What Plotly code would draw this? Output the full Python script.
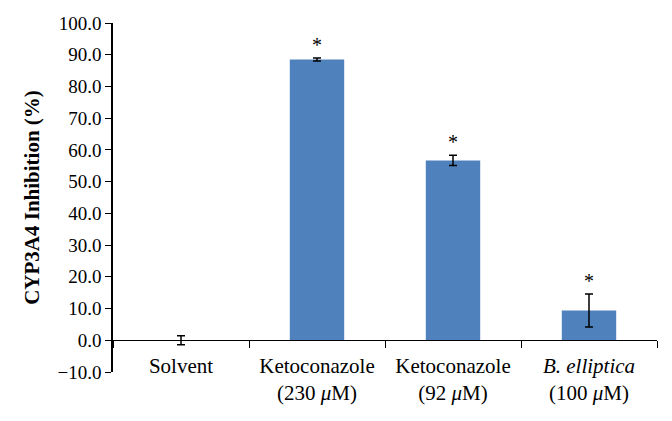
import plotly.graph_objects as go

categories = ["Solvent", "Ketoconazole<br>(230 <i>μ</i>M)", "Ketoconazole<br>(92 <i>μ</i>M)",
              "<i>B. elliptica</i><br>(100 <i>μ</i>M)"]
inhibition = [0.0, 88.5, 56.7, 9.4]
errors = [1.4, 0.5, 1.6, 5.2]
significant = [False, True, True, True]
y_ticks = [-10, 0, 10, 20, 30, 40, 50, 60, 70, 80, 90, 100]

font_family = "Liberation Serif"

fig = go.Figure()
fig.add_trace(go.Bar(
    x=categories, y=inhibition, width=0.4,
    marker=dict(color="#4F81BD", line=dict(width=0)),
    error_y=dict(type="data", array=errors, visible=True, color="black",
                 thickness=1.5, width=4),
))

for c, v, e, s in zip(categories, inhibition, errors, significant):
    if s:
        fig.add_annotation(x=c, y=v + e, text="*", showarrow=False,
                           yanchor="bottom", font=dict(family=font_family, size=20, color="black"))

fig.update_layout(
    width=672, height=421,
    margin=dict(l=105, r=23, t=15, b=57),
    plot_bgcolor="white", paper_bgcolor="white",
    showlegend=False,
    font=dict(family=font_family, size=18, color="black"),
    bargap=0.6,
)
fig.update_xaxes(
    type="category", anchor="free", position=10 / 110, automargin=False,
    showline=True, linecolor="black", linewidth=1.2,
    ticks="outside", tickson="boundaries", ticklen=7, tickcolor="black", tickwidth=1.2,
    showgrid=False, ticklabelstandoff=6,
    tickfont=dict(family=font_family, size=21, color="black"),
)
fig.update_yaxes(
    range=[-10, 100], tickvals=y_ticks, tickformat=".1f", automargin=False,
    showline=True, linecolor="black", linewidth=1.5,
    ticks="outside", ticklen=6, tickcolor="black", tickwidth=1.2,
    showgrid=False, zeroline=False,
    tickfont=dict(family=font_family, size=19, color="black"),
    title=dict(text="<b>CYP3A4 Inhibition (%)</b>", standoff=12,
               font=dict(family=font_family, size=21, color="black")),
)

fig.write_html("out.html")
